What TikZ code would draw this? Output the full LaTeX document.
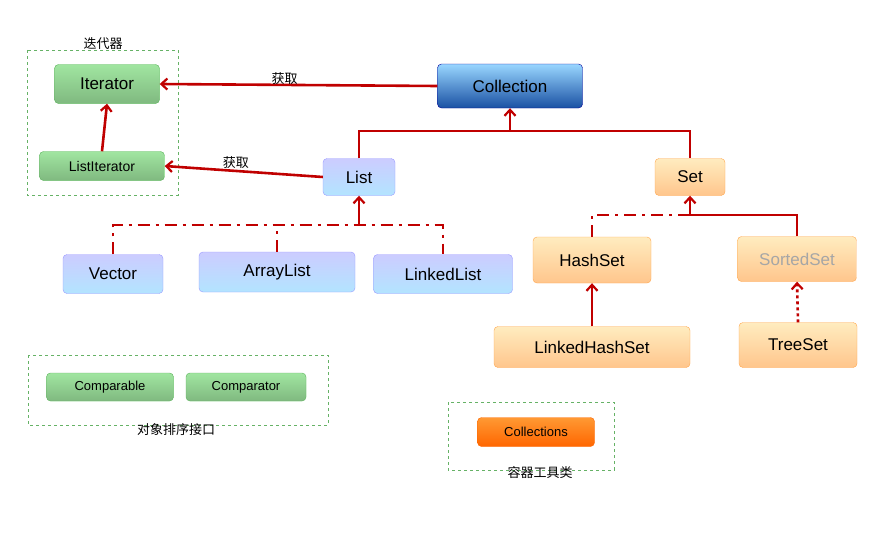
\documentclass[tikz,border=0pt]{standalone}
\usepackage{fontspec}
\setmainfont{Liberation Sans}
\newfontfamily\cjk{Noto Sans CJK SC}
\usetikzlibrary{arrows.meta}
\definecolor{ln}{HTML}{C00000}
\tikzset{
 box/.style={draw, rounded corners=4pt, minimum height=#1, inner sep=2pt, font=\fontsize{17}{19}\selectfont},
 gbox/.style={box=#1, draw=green!50!black!60, top color=green!30!white!90!black, bottom color=green!45!black!50, fill=green!35},
 bbox/.style={box=#1, draw=blue!40, top color=blue!20, bottom color=blue!35!cyan!30},
 obox/.style={box=#1, draw=orange!70, top color=yellow!40!orange!25, bottom color=orange!45},
 arr/.style={ln, line width=2.6pt, -{Straight Barb[length=6pt,width=11pt,line width=2.2pt]}},
 conn/.style={ln, line width=2.6pt},
 dd/.style={ln, line width=2.6pt, dash pattern=on 12pt off 6pt on 3pt off 6pt},
 grp/.style={draw=green!50!black!60, dashed, thin},
 cl/.style={font=\cjk\fontsize{13}{15}\selectfont}
}
\begin{document}
\begin{tikzpicture}[x=1pt,y=-1pt]
\useasboundingbox (0,0) rectangle (890,535);
\draw[grp] (27,50) rectangle (178,195);
\node[cl] at (103,44) {迭代器};
\draw[grp] (28,355) rectangle (328,425);
\node[cl] at (176,430) {对象排序接口};
\draw[grp] (448,402) rectangle (614,470);
\node[cl] at (540,473) {容器工具类};
\node[gbox=39pt, minimum width=105pt] (it) at (107,84) {Iterator};
\node[gbox=29pt, minimum width=125pt, font=\fontsize{14}{16}\selectfont] (li) at (102,166) {ListIterator};
\node[box=44pt, minimum width=145pt, draw=blue!60!black, top color=blue!40!cyan!40, bottom color=blue!60!cyan!60!black!90] (co) at (510,86) {Collection};
\node[bbox=37pt, minimum width=72pt] (list) at (359,177) {List};
\node[obox=37pt, minimum width=70pt] (set) at (690,177) {Set};
\node[bbox=39pt, minimum width=100pt] (vec) at (113,274) {Vector};
\node[bbox=40pt, minimum width=156pt] (al) at (277,272) {ArrayList};
\node[bbox=39pt, minimum width=139pt] (ll) at (443,274) {LinkedList};
\node[obox=46pt, minimum width=118pt] (hs) at (592,260) {HashSet};
\node[obox=45pt, minimum width=119pt, text=gray!70] (ss) at (797,259) {SortedSet};
\node[obox=41pt, minimum width=196pt] (lhs) at (592,347) {LinkedHashSet};
\node[obox=45pt, minimum width=118pt] (ts) at (798,345) {TreeSet};
\node[gbox=28pt, minimum width=127pt, font=\fontsize{13}{15}\selectfont] (cmp) at (110,387) {Comparable};
\node[gbox=28pt, minimum width=120pt, font=\fontsize{13}{15}\selectfont] (cmr) at (246,387) {Comparator};
\node[box=29pt, minimum width=117pt, font=\fontsize{13}{15}\selectfont, draw=orange!80!red, top color=orange!80, bottom color=orange!80!red] (cs) at (536,432) {Collections};
% connectors
\draw[arr] (co.west) -- node[pos=0.55,above=-4pt, cl, text=black] {获取} (it.east);
\draw[arr] (li.north) -- (it.south);
\draw[arr] (list.west) -- node[pos=0.55,above=-2pt, cl, text=black] {获取} (li.east);
\coordinate (jc) at (510,131);
\draw[conn] (list.north) |- (jc) -| (set.north);
\draw[arr] (jc) -- (co.south);
\coordinate (jl) at (359,225);
\draw[dd] (vec.north) |- (ll.north |- jl) -- (ll.north);
\draw[dd] (al.north) -- (al.north |- jl);
\draw[arr] (jl) -- (list.south);
\coordinate (js) at (690,215);
\draw[dd] (hs.north) |- (js);
\draw[conn] (ss.north) |- (js);
\draw[arr] (js) -- (set.south);
\draw[arr] (lhs.north) -- (hs.south);
\draw[arr, dashed] (ts.north) -- (ss.south);
\end{tikzpicture}
\end{document}
